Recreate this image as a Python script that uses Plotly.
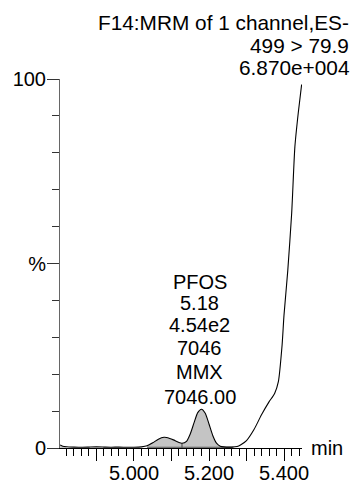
import plotly.graph_objects as go

# --- data ---
time_min = [4.803, 4.81, 4.82, 4.84, 4.86, 4.88, 4.90, 4.92, 4.94, 4.96, 4.98, 5.00,
            5.02, 5.035, 5.05, 5.065, 5.08, 5.09, 5.105, 5.12, 5.128, 5.14, 5.15,
            5.16, 5.17, 5.18, 5.19, 5.20, 5.21, 5.22, 5.23, 5.24, 5.26, 5.275,
            5.285, 5.30, 5.32, 5.34, 5.36, 5.375, 5.385, 5.395, 5.40, 5.41,
            5.4205, 5.429, 5.438, 5.447]
intensity_pct = [0.8, 0.5, 0.35, 0.25, 0.2, 0.25, 0.3, 0.25, 0.2, 0.25, 0.2, 0.2,
                 0.3, 0.6, 1.4, 2.4, 2.9, 2.8, 2.2, 1.5, 1.3, 1.8, 3.8,
                 6.8, 9.6, 10.5, 9.4, 6.5, 3.4, 1.3, 0.5, 0.3, 0.25, 0.4,
                 0.9, 2.0, 5.0, 9.0, 12.5, 14.8, 18.0, 28.0, 36.0, 48.0,
                 63.7, 81.6, 90.8, 98.5]

integration_start = 5.035
integration_end = 5.265
valley_time = 5.128
lead_fill_end = 4.82

header_lines = ["F14:MRM of 1 channel,ES-", "499 > 79.9", "6.870e+004"]
peak_label_lines = ["PFOS", "5.18", "4.54e2", "7046", "MMX", "7046.00"]
peak_label_time = 5.176

x_major_ticks = [4.9, 5.0, 5.1, 5.2, 5.3, 5.4]
x_major_labels = ["", "5.000", "", "5.200", "", "5.400"]
y_ticks = [0, 50, 100]
y_labels = ["0", "%", "100"]

FONT = "Liberation Sans, Arial, Helvetica, sans-serif"
FS = 20

fig = go.Figure()

# integrated peak areas (grey fill)
seg_t = [t for t in time_min if integration_start <= t <= integration_end]
seg_v = [v for t, v in zip(time_min, intensity_pct) if integration_start <= t <= integration_end]
fig.add_trace(go.Scatter(x=seg_t, y=seg_v, mode="lines", line=dict(width=0, shape="spline"),
                         fill="tozeroy", fillcolor="#c4c4c4", hoverinfo="skip"))
lead_t = [t for t in time_min if t <= lead_fill_end]
lead_v = [v for t, v in zip(time_min, intensity_pct) if t <= lead_fill_end]
fig.add_trace(go.Scatter(x=lead_t, y=lead_v, mode="lines", line=dict(width=0),
                         fill="tozeroy", fillcolor="#c4c4c4", hoverinfo="skip"))
# drop line at the valley
vi = time_min.index(valley_time)
fig.add_trace(go.Scatter(x=[valley_time, valley_time], y=[0, intensity_pct[vi]], mode="lines",
                         line=dict(color="#444", width=1), hoverinfo="skip"))
# baseline under integrated region
fig.add_trace(go.Scatter(x=[integration_start, integration_end], y=[0.2, 0.2], mode="lines",
                         line=dict(color="#555", width=1), hoverinfo="skip"))
# chromatogram trace
fig.add_trace(go.Scatter(x=time_min, y=intensity_pct, mode="lines",
                         line=dict(color="black", width=1.1, shape="spline", smoothing=0.6)))

annotations = []
# header text (top right)
header_y = [1.153, 1.091, 1.030]
for txt, yy in zip(header_lines, header_y):
    annotations.append(dict(text=txt, xref="paper", yref="paper", x=(351 - 60) / 242, y=yy,
                            xanchor="right", yanchor="middle", showarrow=False,
                            font=dict(family=FONT, size=20.8, color="black")))
# peak label block
peak_y = [44.9, 39.3, 33.3, 27.1, 20.6, 13.9]
for txt, yy in zip(peak_label_lines, peak_y):
    annotations.append(dict(text=txt, xref="x", yref="y", x=peak_label_time, y=yy,
                            xanchor="center", yanchor="middle", showarrow=False,
                            font=dict(family=FONT, size=FS, color="black")))
# axis unit
annotations.append(dict(text="min", xref="paper", yref="paper", x=(309 - 60) / 242, y=0.0,
                        xanchor="left", yanchor="middle", showarrow=False,
                        font=dict(family=FONT, size=FS, color="black")))

fig.update_layout(
    width=352, height=483,
    margin=dict(l=60, r=50, t=79, b=35, pad=0, autoexpand=False),
    paper_bgcolor="white", plot_bgcolor="white",
    showlegend=False,
    annotations=annotations,
    font=dict(family=FONT, size=FS, color="black"),
    xaxis=dict(range=[4.8027, 5.448], showgrid=False, zeroline=False, automargin=False,
               showline=True, linecolor="black", linewidth=1,
               tickmode="array", tickvals=x_major_ticks, ticktext=x_major_labels,
               ticks="outside", ticklen=12, tickcolor="black", tickwidth=1,
               ticklabelstandoff=-5,
               minor=dict(tick0=5.0, dtick=0.02, ticks="outside", ticklen=7,
                          tickcolor="black", tickwidth=1),
               tickfont=dict(family=FONT, size=FS, color="black")),
    yaxis=dict(range=[0, 100], showgrid=False, zeroline=False, automargin=False,
               showline=True, linecolor="#666", linewidth=1,
               tickmode="array", tickvals=y_ticks, ticktext=y_labels,
               ticks="outside", ticklen=12, tickcolor="#333", tickwidth=1,
               ticklabelstandoff=-3,
               minor=dict(tick0=0, dtick=10, ticks="outside", ticklen=7,
                          tickcolor="#333", tickwidth=1),
               tickfont=dict(family=FONT, size=FS, color="black")),
)

fig.write_html("out.html", config={"displayModeBar": False},
               post_script="document.body.style.margin='0';document.body.style.overflow='hidden';")
